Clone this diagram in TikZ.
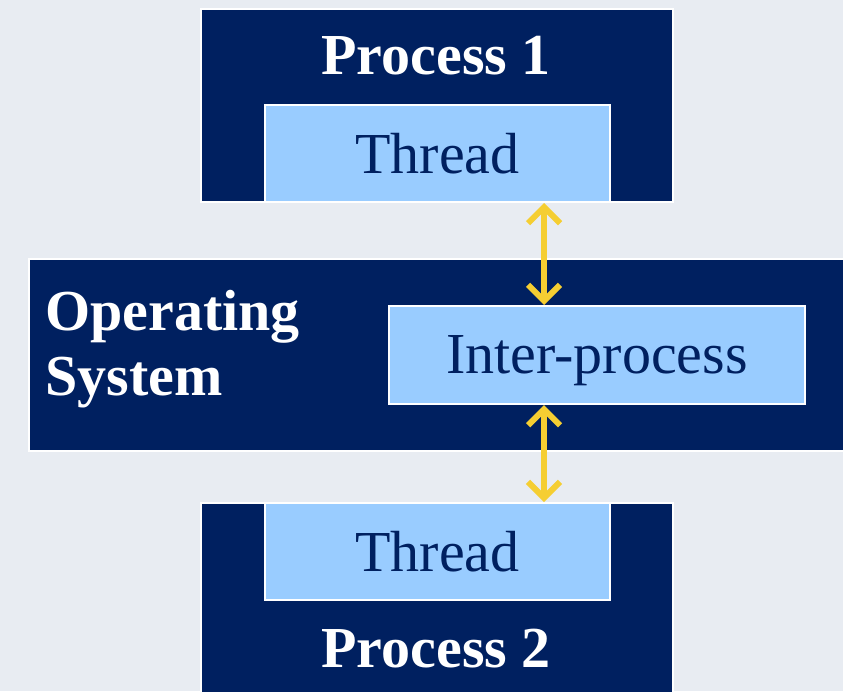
\documentclass[tikz,border=0pt]{standalone}
\usepackage{fontspec}
\setmainfont{Liberation Serif}
\usetikzlibrary{arrows.meta}
\definecolor{os_navy}{RGB}{0, 32, 96}
\definecolor{os_sky}{RGB}{153, 204, 255}
\definecolor{os_gold}{RGB}{245, 206, 50}
\definecolor{os_paper}{RGB}{232, 236, 242}
\tikzstyle{box}=[rectangle,fill=os_navy,draw=white,line width=1.5pt,inner sep=0pt]
\tikzstyle{sub}=[rectangle,fill=os_sky,draw=white,line width=2pt,inner sep=0pt,
  text depth=0pt,text=os_navy,font=\fontsize{58}{61}\selectfont]
\tikzstyle{head}=[text=white,inner sep=0pt,font=\bfseries\fontsize{58}{61}\selectfont]
\tikzstyle{link}=[draw=os_gold,line width=6pt,line cap=round,line join=round,
  {Straight Barb[length=16pt,width=32pt]}-{Straight Barb[length=16pt,width=32pt]}]
\tikzstyle{none}=[]

\begin{document}
\begin{tikzpicture}[x=1pt,y=-1pt]
		\useasboundingbox [fill=os_paper] (0, 0) rectangle (843, 691);
		\clip (0, 0) rectangle (843, 691);
		% the three dark panels
		\node [style=box, minimum width=472pt, minimum height=193pt] (0) at (437, 105.5) {};
		\node [style=box, minimum width=841pt, minimum height=192pt] (2) at (449.5, 355) {};
		\node [style=box, minimum width=472pt, minimum height=217pt] (5) at (437, 611.5) {};
		% light boxes inside them
		\node [style=sub, minimum width=345pt, minimum height=97pt] (1) at (437.5, 153.5) {Thread};
		\node [style=sub, minimum width=416pt, minimum height=98pt] (4) at (597, 355) {Inter-process};
		\node [style=sub, minimum width=345pt, minimum height=97pt] (6) at (437.5, 551.5) {Thread};
		% panel titles
		\node [style=head, anchor=base] (7) at (436, 74) {Process 1};
		\node [style=head, anchor=base west] (8) at (45, 330) {Operating};
		\node [style=head, anchor=base west] (9) at (45, 395) {System};
		\node [style=head, anchor=base] (10) at (436, 667) {Process 2};
		\coordinate (11) at (544, 0);
		\draw [style=link] (1.south -| 11) to (4.north -| 11);
		\draw [style=link] (4.south -| 11) to (6.north -| 11);
\end{tikzpicture}
\end{document}
